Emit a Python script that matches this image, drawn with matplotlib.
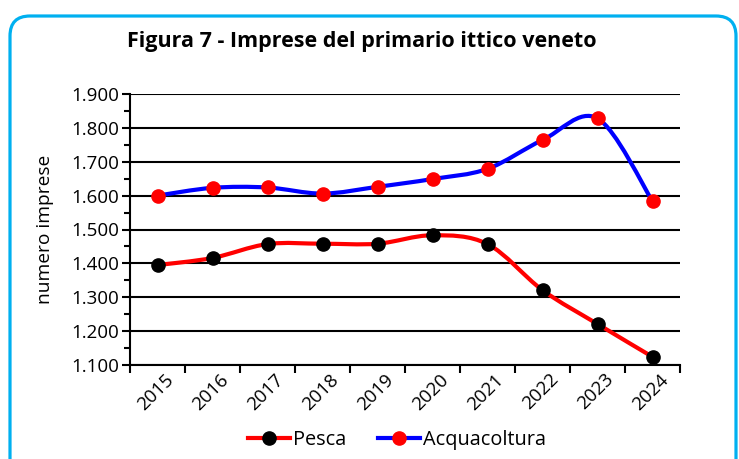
import matplotlib
matplotlib.use("Agg")
import matplotlib.pyplot as plt
import numpy as np
from matplotlib.path import Path
from matplotlib.patches import PathPatch, FancyBboxPatch
from matplotlib.lines import Line2D
from matplotlib.ticker import FuncFormatter, MultipleLocator
from matplotlib.transforms import IdentityTransform

plt.rcParams['font.family'] = ['Open Sans', 'DejaVu Sans']

years = ['2015', '2016', '2017', '2018', '2019', '2020', '2021', '2022', '2023', '2024']
pesca = [1395, 1416, 1457, 1458, 1458, 1483, 1457, 1321, 1221, 1124]
acquacoltura = [1600, 1623, 1624, 1606, 1626, 1649, 1679, 1764, 1828, 1584]


def smooth_path(x, y):
    # Excel-style smoothed line: Catmull-Rom control points as cubic Bezier
    x = np.asarray(x, float)
    y = np.asarray(y, float)
    verts = [(x[0], y[0])]
    codes = [Path.MOVETO]
    n = len(x)
    for i in range(n - 1):
        p0 = i - 1 if i > 0 else i
        p3 = i + 2 if i + 2 < n else i + 1
        c1 = (x[i] + (x[i + 1] - x[p0]) / 6, y[i] + (y[i + 1] - y[p0]) / 6)
        c2 = (x[i + 1] - (x[p3] - x[i]) / 6, y[i + 1] - (y[p3] - y[i]) / 6)
        verts += [c1, c2, (x[i + 1], y[i + 1])]
        codes += [Path.CURVE4] * 3
    return Path(verts, codes)


fig = plt.figure(figsize=(7.39, 4.59), dpi=100)
ax = fig.add_axes([130 / 739, 1 - 365 / 459, 550 / 739, 271 / 459])

xs = np.arange(len(years)) + 0.5
for vals, lc, mc in [(pesca, 'red', 'black'), (acquacoltura, 'blue', 'red')]:
    ax.add_patch(PathPatch(smooth_path(xs, vals), fill=False, edgecolor=lc,
                           lw=3, capstyle='round', joinstyle='round', zorder=3))
    ax.plot(xs, vals, ls='none', marker='o', ms=9.5, mfc=mc, mec=mc, zorder=4)

ax.set_xlim(0, len(years))
ax.set_ylim(1100, 1900)
ax.set_xticks(np.arange(len(years) + 1))
ax.set_xticklabels([])
for x, lab in zip(xs, years):
    ax.text(x + 0.12, 1100 - 16, lab, rotation=45, ha='right', va='top',
            rotation_mode='anchor', fontsize=13.5, transform=ax.transData)
ax.yaxis.set_major_locator(MultipleLocator(100))
ax.yaxis.set_minor_locator(MultipleLocator(50))
ax.yaxis.set_major_formatter(FuncFormatter(lambda v, p: f"{int(v):,}".replace(',', '.')))
ax.tick_params(axis='y', which='major', length=6, width=1.5, labelsize=13.5, direction='out', pad=2)
ax.tick_params(axis='y', which='minor', length=4, width=1.5, direction='out')
ax.tick_params(axis='x', length=6, width=1.5, direction='out')
ax.grid(axis='y', which='major', color='black', lw=1.5)
ax.set_axisbelow(True)
for s in ['top', 'right']:
    ax.spines[s].set_visible(False)
for s in ['left', 'bottom']:
    ax.spines[s].set_linewidth(1.5)
ax.set_ylabel('numero imprese', fontsize=13.8, labelpad=12)

fig.text(362 / 739, 1 - 42 / 459, 'Figura 7 - Imprese del primario ittico veneto',
         ha='center', va='center', fontsize=15.5, fontweight='bold')

handles = [Line2D([], [], color='red', lw=3, marker='o', ms=9.5, mfc='black', mec='black'),
           Line2D([], [], color='blue', lw=3, marker='o', ms=9.5, mfc='red', mec='red')]
fig.legend(handles, ['Pesca', 'Acquacoltura'], loc='center', bbox_to_anchor=(397 / 739, 1 - 440 / 459),
           ncol=2, frameon=False, fontsize=14.3, handlelength=2.1, handletextpad=0.15,
           columnspacing=1.6)

# rounded frame in pixel units (origin bottom-left)
border = FancyBboxPatch((10, -40), 726, 459 - 16 + 40,
                        boxstyle='round,pad=0,rounding_size=20', transform=IdentityTransform(),
                        fill=False, edgecolor='#00B0F0', lw=2.3, clip_on=False)
fig.patches.append(border)

fig.savefig('out.png', dpi=100)
